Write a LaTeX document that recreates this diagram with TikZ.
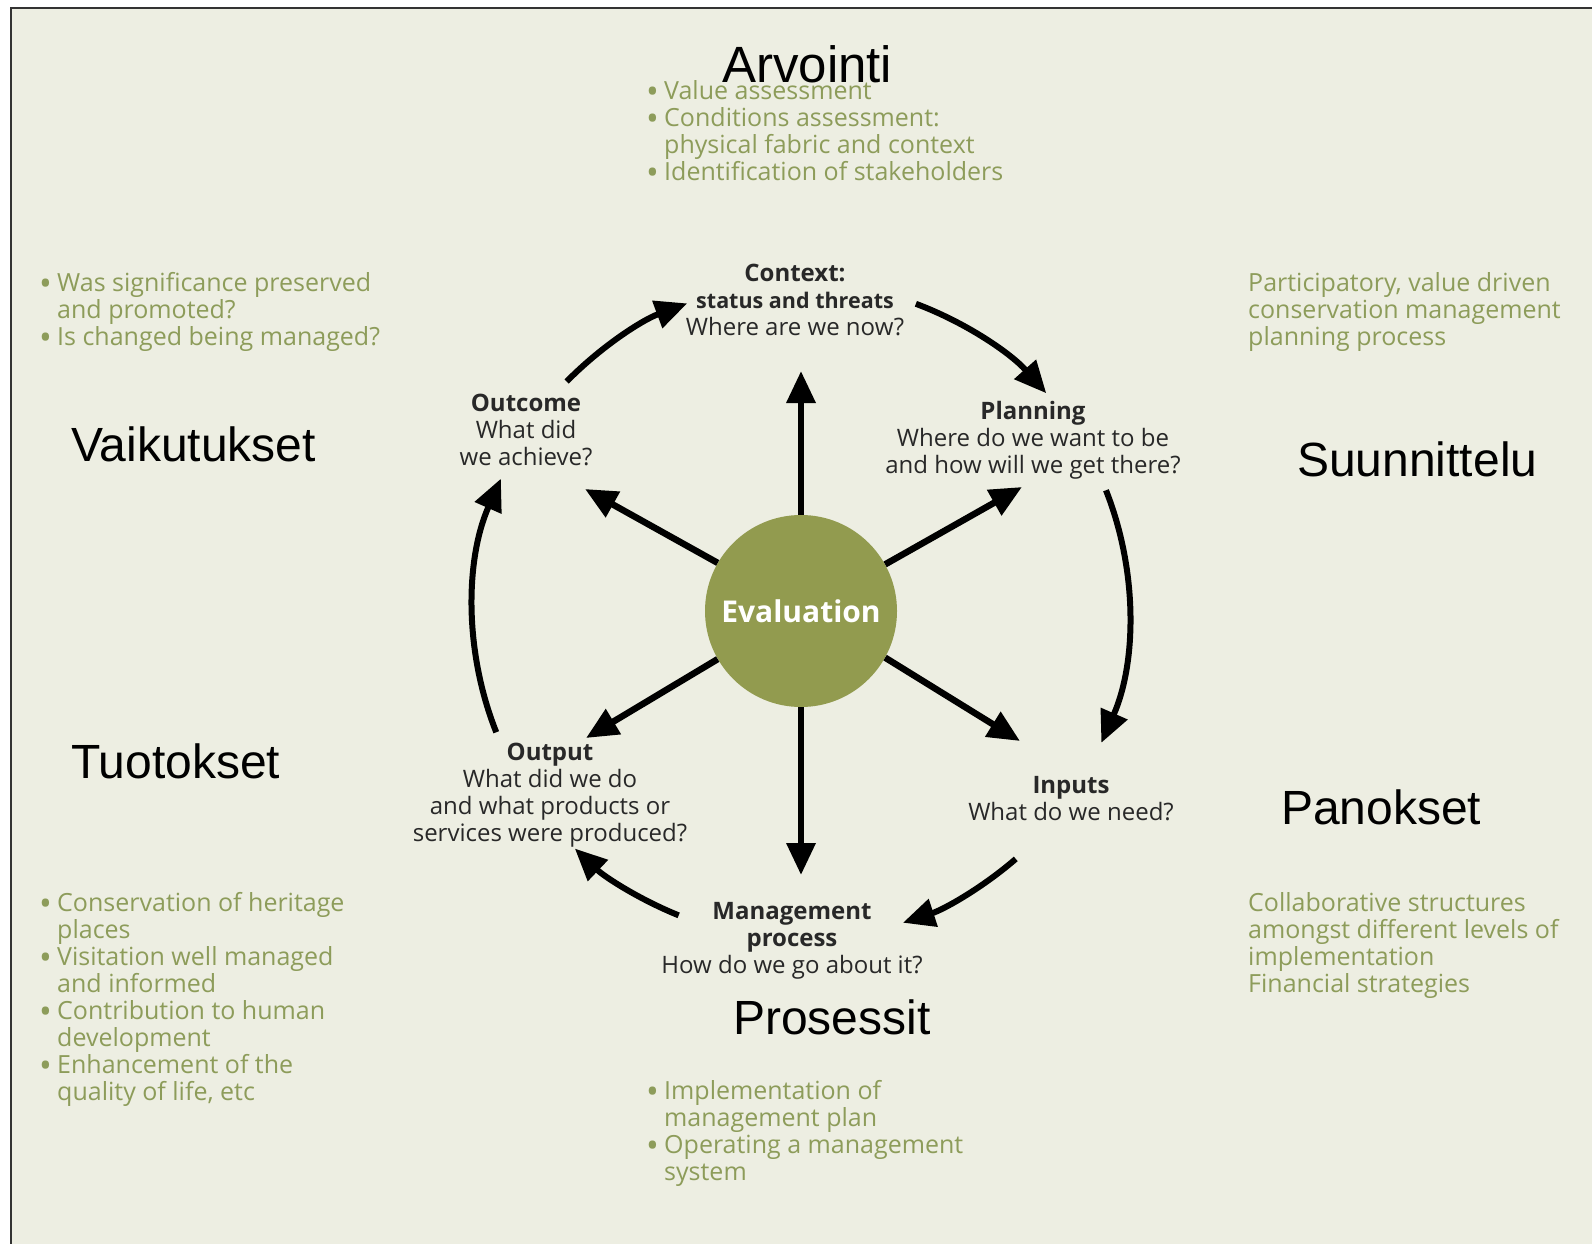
\documentclass[tikz,border=0pt]{standalone}
\usepackage{fontspec}
\setmainfont{Open Sans}
\newfontfamily\arialf{Liberation Sans}
\usetikzlibrary{arrows.meta,calc}
\definecolor{bg}{RGB}{237,238,226}
\definecolor{grn}{RGB}{141,156,90}
\definecolor{circ}{RGB}{146,155,79}
\definecolor{lbl}{RGB}{40,40,40}
\newcommand{\gbul}{\makebox[18pt][l]{\raisebox{-4pt}{\fontsize{34}{27}\selectfont •}}}
\newcommand{\gind}{\hspace*{18pt}}
\newcommand{\nb}[1]{{\fontsize{21.5}{27}\selectfont\bfseries #1}}
\begin{document}
\begin{tikzpicture}[x=1pt,y=1pt,
  greentext/.style={anchor=base west, align=left, inner sep=0pt, text=grn, font=\fontsize{25}{27}\selectfont},
  lab/.style={anchor=base, align=center, inner sep=0pt, text=lbl, font=\fontsize{24}{27}\selectfont},
  fin/.style={anchor=base west, inner sep=0pt, font=\arialf\fontsize{48}{56}\selectfont},
  radial/.style={line width=6.5pt, -{Triangle[length=32pt,width=28pt]}},
  cyc/.style={line width=6pt, -{Triangle[length=32pt,width=28pt]}}
]
\useasboundingbox (0,0) rectangle (1592,-1244);
\fill[white] (0,0) rectangle (1592,-1244);
\filldraw[fill=bg, draw=black!80, line width=2pt] (11,-8) rectangle (1620,-1270);

% centre
\node[circle, fill=circ, minimum size=192pt, inner sep=0pt, text=white, font=\bfseries\fontsize{30}{36}\selectfont] (E) at (801,-611) {Evaluation};

% labels (anchored at the baseline of their last line)
\node[lab] (ctx) at (795,-335) {\textbf{Context:}\\\nb{status and threats}\\Where are we now?};
\node[lab] (pln) at (1033,-473) {\textbf{Planning}\\Where do we want to be\\and how will we get there?};
\node[lab] (inp) at (1071,-820) {\textbf{Inputs}\\What do we need?};
\node[lab] (mgt) at (792,-973) {\textbf{Management}\\\textbf{process}\\How do we go about it?};
\node[lab] (out) at (550,-841) {\textbf{Output}\\What did we do\\and what products or\\services were produced?};
\node[lab] (otc) at (526,-465) {\textbf{Outcome}\\What did\\we achieve?};

% radial arrows
\coordinate (tU) at (801,-371);
\coordinate (tD) at (801,-875);
\coordinate (tUR) at (1022,-487);
\coordinate (tUL) at (585,-489);
\coordinate (tLR) at (1020,-741);
\coordinate (tLL) at (586,-738);
\draw[radial] (E.90) -- (tU);
\draw[radial] (E.-90) -- (tD);
\draw[radial] (E.29.3) -- (tUR);
\draw[radial] (E.150.5) -- (tUL);
\draw[radial] (E.-29.5) -- (tLR);
\draw[radial] (E.-150.5) -- (tLL);

% cycle arrows
\coordinate (a1) at ($(E)+(135.6:328)$);
\coordinate (a2) at ($(E)+(69.5:328)$);
\coordinate (a3) at ($(E)+(21.6:328)$);
\coordinate (a4) at ($(E)+(-49.1:328)$);
\coordinate (a5) at ($(E)+(-111.9:328)$);
\coordinate (a6) at ($(E)+(201.7:328)$);
\draw[cyc] (a1) arc[start angle=135.6, end angle=110.3, radius=328];
\draw[cyc] (a2) arc[start angle=69.5, end angle=41.6, radius=328];
\draw[cyc] (a3) arc[start angle=21.6, end angle=-23.7, radius=328];
\draw[cyc] (a4) arc[start angle=-49.1, end angle=-71.9, radius=328];
\draw[cyc] (a5) arc[start angle=-111.9, end angle=-133.6, radius=328];
\draw[cyc] (a6) arc[start angle=201.7, end angle=156.2, radius=328];

% green texts (anchored at the baseline of their last line)
\node[greentext] (gT) at (646,-180) {\gbul Value assessment\\\gbul Conditions assessment:\\\gind physical fabric and context\\\gbul Identification of stakeholders};
\node[greentext] (gTL) at (39,-345) {\gbul Was significance preserved\\\gind and promoted?\\\gbul Is changed being managed?};
\node[greentext] (gTR) at (1248,-345) {Participatory, value driven\\conservation management\\planning process};
\node[greentext] (gBL) at (39,-1100) {\gbul Conservation of heritage\\\gind places\\\gbul Visitation well managed\\\gind and informed\\\gbul Contribution to human\\\gind development\\\gbul Enhancement of the\\\gind quality of life, etc};
\node[greentext] (gBR) at (1248,-992) {Collaborative structures\\amongst different levels of\\implementation\\Financial strategies};
\node[greentext] (gB) at (646,-1180) {\gbul Implementation of\\\gind management plan\\\gbul Operating a management\\\gind system};

% Finnish labels
\node[fin, font=\arialf\fontsize{51}{60}\selectfont] (arv) at (722,-83) {Arvointi};
\node[fin] (vai) at (71,-461) {Vaikutukset};
\node[fin] (suu) at (1297,-476) {Suunnittelu};
\node[fin] (tuo) at (71,-778) {Tuotokset};
\node[fin] (pan) at (1281,-824) {Panokset};
\node[fin] (pro) at (733,-1034) {Prosessit};
\end{tikzpicture}
\end{document}
